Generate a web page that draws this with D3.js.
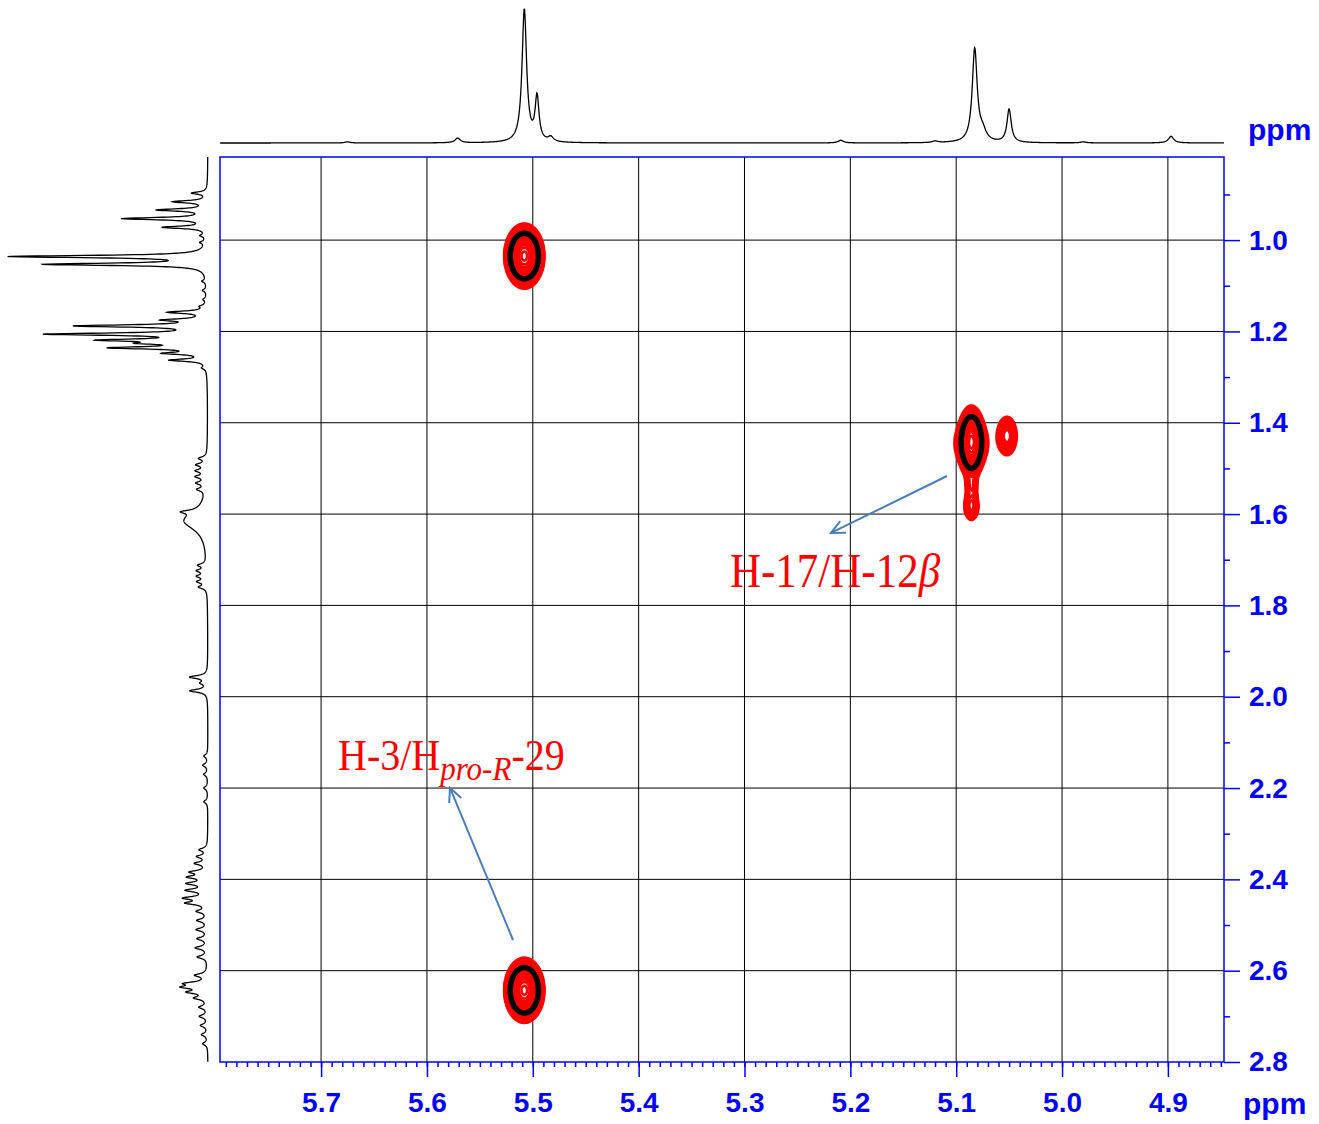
<!DOCTYPE html>
<html>
<head>
<meta charset="utf-8">
<script src="https://cdn.jsdelivr.net/npm/d3@7"></script>
<style>
  body { margin: 0; background: #fff; }
</style>
</head>
<body>
<div id="chart"></div>
<script>
// ---- data ----
// axis ticks (ppm)
const xTicks = [5.7, 5.6, 5.5, 5.4, 5.3, 5.2, 5.1, 5.0, 4.9];
const yTicks = [1.0, 1.2, 1.4, 1.6, 1.8, 2.0, 2.2, 2.4, 2.6, 2.8];

// top 1D trace: [ppm, relative intensity, half width (ppm)]
const topPeaks = [
    [5.508, 100, 0.0026], [5.496, 33, 0.0022], [5.571, 3.5, 0.003],
    [5.483, 3.5, 0.003], [5.0825, 70, 0.0028], [5.075, 7, 0.004],
    [5.050, 25, 0.0024], [4.897, 5, 0.003], [5.209, 2, 0.003],
    [5.12, 1.2, 0.003], [5.675, 0.8, 0.003], [4.98, 0.8, 0.003]
];

// left 1D trace: [ppm, relative intensity, half width (ppm)]
const leftPeaks = [
    [0.897, 7.7, 0.003], [0.916, 17, 0.003], [0.934, 25, 0.003],
    [0.953, 43, 0.003], [0.972, 22, 0.003], [0.99, 2.5, 0.003],
    [1.005, 2.5, 0.003], [1.036, 100, 0.003], [1.053, 82, 0.003],
    [1.09, 2, 0.003], [1.11, 2, 0.003], [1.13, 1.5, 0.003], [1.145, 2.5, 0.003],
    [1.158, 19, 0.003], [1.175, 19.5, 0.003], [1.188, 65, 0.003],
    [1.206, 79, 0.003], [1.219, 48, 0.003], [1.226, 24, 0.003],
    [1.236, 46, 0.003], [1.248, 19, 0.003], [1.263, 18, 0.003], [1.28, 2, 0.003],
    [1.478, 4, 0.004], [1.492, 5, 0.004], [1.505, 5, 0.004],
    [1.518, 5, 0.004], [1.532, 4.5, 0.004], [1.546, 4, 0.004],
    [1.595, 7, 0.004], [1.615, 12, 0.024],
    [1.712, 4, 0.004], [1.724, 4.5, 0.004], [1.736, 4.5, 0.004],
    [1.748, 4.5, 0.004], [1.76, 4, 0.004],
    [1.957, 9, 0.004], [1.97, 3, 0.004], [1.987, 9, 0.004],
    [2.13, 2, 0.004], [2.15, 2.5, 0.004], [2.17, 2, 0.004], [2.2, 2, 0.004], [2.23, 2, 0.004],
    [2.335, 4, 0.004], [2.35, 5, 0.004], [2.365, 6, 0.004], [2.384, 8, 0.004],
    [2.395, 9, 0.004], [2.409, 9.5, 0.004], [2.424, 10, 0.004],
    [2.441, 11, 0.004], [2.452, 10, 0.004],
    [2.47, 5, 0.004], [2.49, 5, 0.004], [2.51, 5.5, 0.004],
    [2.53, 5, 0.004], [2.55, 6, 0.004], [2.57, 5, 0.004],
    [2.61, 6, 0.004], [2.628, 10, 0.004], [2.636, 11, 0.004],
    [2.647, 9, 0.004], [2.66, 6, 0.004],
    [2.68, 4, 0.004], [2.70, 4, 0.004], [2.72, 3.5, 0.004], [2.74, 3, 0.004], [2.76, 2.5, 0.004]
];

// 2D cross peaks: f2 (x ppm), f1 (y ppm), amplitude, widths (ppm)
const crossF2 = [5.508, 5.508, 5.0856, 5.0856, 5.0856, 5.0856, 5.052];
const crossF1 = [1.035, 2.643, 1.4425, 1.445, 1.535, 1.583, 1.429];
const crossAmp = [1, 1, 1, 0.05, 0.06, 0.08, 0.125];
const crossW2 = [0.0068, 0.0068, 0.0046, 0.011, 0.0035, 0.004, 0.0048];
const crossW1 = [0.0255, 0.0255, 0.0285, 0.03, 0.019, 0.018, 0.022];

// annotations (ppm)
const annotations = [
    { from: [5.1087, 1.5166], to: [5.2183, 1.6414], at: [5.3137, 1.7597], text: 'H-17/H-12', greek: 'β' },
    { from: [5.5187, 2.5328], to: [5.5782, 2.1999], at: [5.6840, 2.1605], text: 'H-3/H', sub: 'pro-R', tail: '-29' }
];

// ---- chart ----
const width = 1319, height = 1124;
const plot = { left: 220, top: 157, right: 1224, bottom: 1062 };
const blue = '#0000ff';
const arrowColor = '#4a7ebb';
const axisFont = 'bold 28px "Liberation Sans", Arial, sans-serif';
const unitFont = 'bold 30px "Liberation Sans", Arial, sans-serif';

const svg = d3.select('#chart')
    .append('svg')
    .attr('width', width)
    .attr('height', height)
    .attr('viewBox', [0, 0, width, height]);

const x = d3.scaleLinear().domain([5.7955, 4.847]).range([plot.left, plot.right]);
const y = d3.scaleLinear().domain([0.818, 2.8]).range([plot.top, plot.bottom]);

// intensity scales for the projections
const topI = d3.scaleLinear().domain([0, 100]).range([143, 10]);
const leftI = d3.scaleLinear().domain([0, 100]).range([208, 13]);

// grid
svg.append('g')
    .selectAll('line')
    .data(xTicks)
    .join('line')
    .attr('x1', (d) => x(d)).attr('x2', (d) => x(d))
    .attr('y1', plot.top).attr('y2', plot.bottom)
    .attr('stroke', '#000').attr('stroke-width', 1);
svg.append('g')
    .selectAll('line')
    .data(yTicks.filter((d) => d < 2.8))
    .join('line')
    .attr('x1', plot.left).attr('x2', plot.right)
    .attr('y1', (d) => y(d)).attr('y2', (d) => y(d))
    .attr('stroke', '#000').attr('stroke-width', 1);

// contours
const step = 2;
const nx = Math.round((plot.right - plot.left) / step) + 1;
const ny = Math.round((plot.bottom - plot.top) / step) + 1;
const grid = new Float64Array(nx * ny);
for (let j = 0; j < ny; j++) {
    const f1 = y.invert(plot.top + j * step);
    for (let i = 0; i < nx; i++) {
        const f2 = x.invert(plot.left + i * step);
        let v = 0;
        for (let k = 0; k < crossAmp.length; k++) {
            const dx = (f2 - crossF2[k]) / crossW2[k];
            const dy = (f1 - crossF1[k]) / crossW1[k];
            const e = dx * dx + dy * dy;
            if (e < 50) v += crossAmp[k] * Math.exp(-e / 2);
        }
        grid[j * nx + i] = v;
    }
}
const levels = d3.range(0, 22).map((k) => 0.02 * Math.pow(1.2, k));
const blackLevel = levels[11];
const contours = d3.contours().size([nx, ny]).thresholds(levels)(grid);
const cpath = d3.geoPath(
    d3.geoIdentity().scale(step).translate([plot.left - step / 2, plot.top - step / 2]),
);
svg.append('g')
    .selectAll('path')
    .data(contours.filter((c) => c.value !== blackLevel))
    .join('path')
    .attr('d', cpath)
    .attr('fill', 'none')
    .attr('stroke', '#ff0000')
    .attr('stroke-width', 2.6)
    .attr('stroke-linejoin', 'round');
svg.append('g')
    .selectAll('path')
    .data(contours.filter((c) => c.value === blackLevel))
    .join('path')
    .attr('d', cpath)
    .attr('fill', 'none')
    .attr('stroke', '#000')
    .attr('stroke-width', 5.5)
    .attr('stroke-linejoin', 'round');

// 1D traces
const lorentz = (peaks, ppm) =>
    d3.sum(peaks, ([c, h, g]) => (h * g * g) / ((ppm - c) * (ppm - c) + g * g));

const topPts = d3.range(4.847, 5.7955, 0.0004).map((p) => [p, lorentz(topPeaks, p)]);
svg.append('path')
    .attr('d', d3.line().x((d) => x(d[0])).y((d) => topI(d[1]))(topPts))
    .attr('fill', 'none')
    .attr('stroke', '#000')
    .attr('stroke-width', 1.3);

const leftPts = d3.range(0.818, 2.8, 0.0004).map((p) => [p, lorentz(leftPeaks, p)]);
svg.append('path')
    .attr('d', d3.line().x((d) => leftI(d[1])).y((d) => y(d[0]))(leftPts))
    .attr('fill', 'none')
    .attr('stroke', '#000')
    .attr('stroke-width', 1.3);

// frame
svg.append('rect')
    .attr('x', plot.left).attr('y', plot.top)
    .attr('width', plot.right - plot.left)
    .attr('height', plot.bottom - plot.top)
    .attr('fill', 'none')
    .attr('stroke', blue)
    .attr('stroke-width', 1.5);

// axes
const styleAxis = (g) => {
    g.select('.domain').remove();
    g.selectAll('line').attr('stroke', blue).attr('stroke-width', 1.5);
    g.selectAll('text').attr('fill', blue).style('font', axisFont);
};

const minorX = d3.range(475, 580).map((k) => k / 100).filter((d) => d >= 4.847 && d <= 5.7955);
svg.append('g')
    .attr('transform', `translate(0,${ plot.bottom })`)
    .call(d3.axisBottom(x).tickValues(minorX).tickSize(5).tickFormat(''))
    .call(styleAxis);
svg.append('g')
    .attr('transform', `translate(0,${ plot.bottom })`)
    .call(d3.axisBottom(x).tickValues(xTicks).tickSize(15).tickPadding(15).tickFormat(d3.format('.1f')))
    .call(styleAxis);

const minorY = d3.range(9, 28, 2).map((k) => k / 10);
svg.append('g')
    .attr('transform', `translate(${ plot.right },0)`)
    .call(d3.axisRight(y).tickValues(minorY).tickSize(6).tickFormat(''))
    .call(styleAxis);
svg.append('g')
    .attr('transform', `translate(${ plot.right },0)`)
    .call(d3.axisRight(y).tickValues(yTicks).tickSize(16).tickPadding(9).tickFormat(d3.format('.1f')))
    .call(styleAxis);

// unit labels
svg.append('text').attr('x', 1248).attr('y', 140).text('ppm')
    .attr('fill', blue).style('font', unitFont);
svg.append('text').attr('x', 1243).attr('y', 1114).text('ppm')
    .attr('fill', blue).style('font', unitFont);

// annotations
const arrowHead = (x0, y0, x1, y1, len = 15, ang = 0.45) => {
    const a = Math.atan2(y0 - y1, x0 - x1);
    const p1 = [x1 + len * Math.cos(a + ang), y1 + len * Math.sin(a + ang)];
    const p2 = [x1 + len * Math.cos(a - ang), y1 + len * Math.sin(a - ang)];
    return `M${ p1 }L${ x1 },${ y1 }L${ p2 }`;
};

annotations.forEach((a) => {
    const x0 = x(a.from[0]), y0 = y(a.from[1]);
    const x1 = x(a.to[0]), y1 = y(a.to[1]);
    svg.append('line')
        .attr('x1', x0).attr('y1', y0).attr('x2', x1).attr('y2', y1)
        .attr('stroke', arrowColor).attr('stroke-width', 2);
    svg.append('path')
        .attr('d', arrowHead(x0, y0, x1, y1))
        .attr('fill', 'none').attr('stroke', arrowColor).attr('stroke-width', 2);

    const t = svg.append('text')
        .attr('transform', `translate(${ x(a.at[0]) },${ y(a.at[1]) }) scale(1,1.12)`)
        .attr('fill', '#ff0000')
        .style('font-family', '"Liberation Serif", "Times New Roman", serif')
        .style('font-size', a.greek ? '43px' : '40px');
    t.append('tspan').text(a.text);
    if (a.greek) t.append('tspan').style('font-style', 'italic').text(a.greek);
    if (a.sub) {
        t.append('tspan').style('font-style', 'italic').style('font-size', '31px')
            .attr('dy', 9).text(a.sub);
        t.append('tspan').attr('dy', -9).text(a.tail);
    }
});
</script>
</body>
</html>
